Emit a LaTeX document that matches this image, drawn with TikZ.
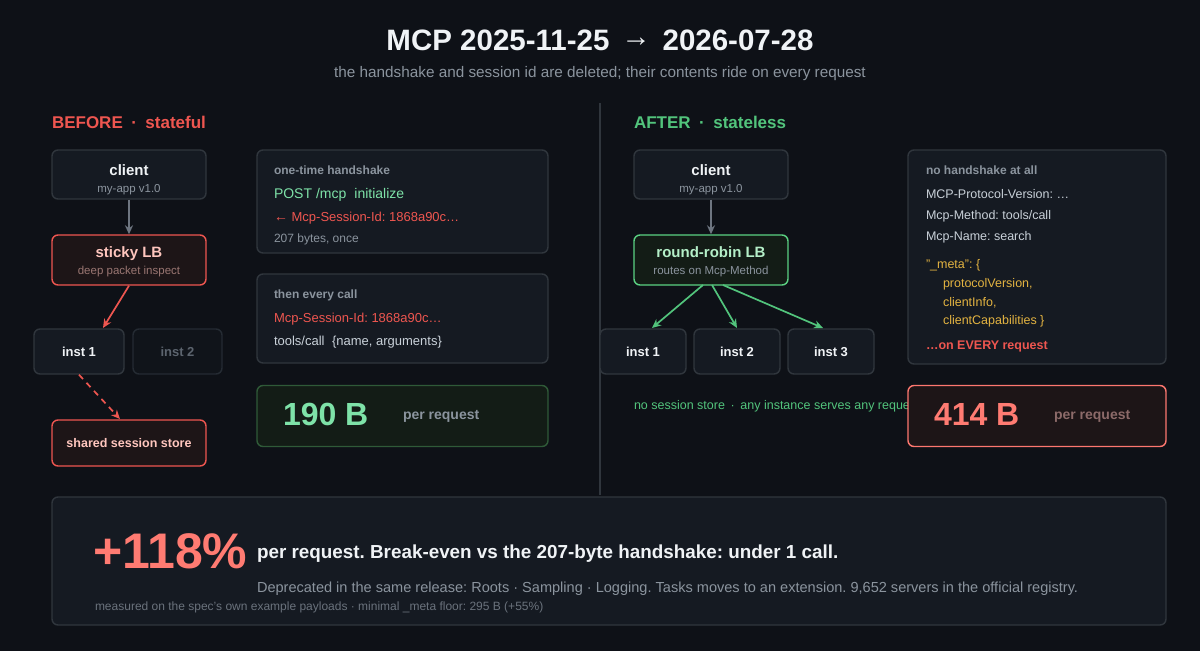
\documentclass[tikz,border=0pt]{standalone}
\usepackage{fontspec}
\setmainfont{Liberation Sans}
\usetikzlibrary{arrows.meta}
\definecolor{bg}{HTML}{0E1117}
\definecolor{boxfill}{HTML}{151A22}
\definecolor{boxline}{HTML}{30363D}
\definecolor{dimfill}{HTML}{10141A}
\definecolor{dimline}{HTML}{252B33}
\definecolor{txtw}{HTML}{F0F3F6}
\definecolor{txtg}{HTML}{8B949E}
\definecolor{txtlg}{HTML}{C9D1D9}
\definecolor{dimtxt}{HTML}{5C646E}
\definecolor{foot}{HTML}{6A727C}
\definecolor{cred}{HTML}{EE5650}
\definecolor{salmon}{HTML}{FF7B72}
\definecolor{redfill}{HTML}{1D1517}
\definecolor{pink}{HTML}{FFC6BE}
\definecolor{pinkdim}{HTML}{9A7672}
\definecolor{cgreen}{HTML}{52C47C}
\definecolor{mint}{HTML}{7EE2A8}
\definecolor{lbtext}{HTML}{B4EFC8}
\definecolor{greenfill}{HTML}{131C16}
\definecolor{greenline}{HTML}{2F5A38}
\definecolor{lbline}{HTML}{5BD283}
\definecolor{gold}{HTML}{E3B341}
\definecolor{arrowg}{HTML}{6E7681}
\definecolor{perred}{HTML}{8C6A69}
\frenchspacing
\newcommand\fsz[1]{\fontsize{#1}{#1}\selectfont}
\tikzset{
  box/.style={draw=boxline, fill=boxfill, rounded corners=6pt, line width=1.4pt, inner sep=0pt},
  dimbox/.style={box, draw=dimline, fill=dimfill},
  redbox/.style={box, draw=cred, fill=redfill},
  lbgreen/.style={box, draw=lbline, fill=greenfill},
  greenbox/.style={box, draw=greenline, fill=greenfill},
  numredbox/.style={box, draw=salmon!90!cred, fill=redfill},
  txt/.style={inner sep=0pt, outer sep=0pt},
  lt/.style={txt, anchor=base west},
  ct/.style={txt, anchor=base},
  conn/.style={-{Stealth[length=9pt,width=8pt]}, line width=1.7pt},
}
\begin{document}
\begin{tikzpicture}[x=1pt,y=-1pt]
\fill[bg] (0,0) rectangle (1200,651);
\useasboundingbox (0,0) rectangle (1200,651);

% title
\node[ct, text=txtw, font=\fsz{29.5}\bfseries] (title) at (600,50) {MCP 2025-11-25\hspace{0.4em}\raisebox{0.12em}{→}\hspace{0.4em}2026-07-28};
\node[ct, text=txtg, font=\fsz{15.3}] (subtitle) at (600,77) {the handshake and session id are deleted; their contents ride on every request};

% divider
\coordinate (dtop) at (600,103);
\coordinate (dbot) at (600,495);
\draw[boxline, line width=1.2pt] (dtop) -- (dbot);

% ===== BEFORE =====
\node[lt, text=cred, font=\fsz{17}\bfseries] (bhead) at (52,128) {BEFORE\hspace{0.5em}·\hspace{0.5em}stateful};

\node[box, minimum width=154pt, minimum height=49pt] (bclient) at (129,174.5) {};
\node[ct, text=txtw, font=\fsz{15}\bfseries] (bclientt) at (129,175) {client};
\node[ct, text=txtg, font=\fsz{11.5}] (bclients) at (129,192) {my-app v1.0};

\node[redbox, minimum width=154pt, minimum height=50pt] (blb) at (129,260) {};
\node[ct, text=pink, font=\fsz{15}\bfseries] (blbt) at (129,257) {sticky LB};
\node[ct, text=pinkdim, font=\fsz{11.5}] (blbs) at (129,274) {deep packet inspect};

\node[box, minimum width=90pt, minimum height=45pt] (bi1) at (79,351.5) {};
\node[ct, text=txtw, font=\fsz{13}\bfseries] (bi1t) at (79,356.5) {inst 1};
\node[dimbox, minimum width=89pt, minimum height=45pt] (bi2) at (177.5,351.5) {};
\node[ct, text=dimtxt, font=\fsz{13}\bfseries] (bi2t) at (177.5,356.5) {inst 2};

\node[redbox, minimum width=154pt, minimum height=46pt] (bstore) at (129,443) {};
\node[ct, text=pink, font=\fsz{12.5}\bfseries] (bstoret) at (129,447) {shared session store};

\coordinate (bi1in) at (103,328);
\coordinate (bstin) at (120,419);
\draw[conn, arrowg] (bclient.south) -- (blb.north);
\draw[conn, cred] (blb.south) -- (bi1in);
\draw[conn, cred, dash pattern=on 6pt off 5pt] (bi1.south) -- (bstin);

% handshake card
\node[box, minimum width=291pt, minimum height=103pt] (hs) at (402.5,201.5) {};
\node[lt, text=txtg, font=\fsz{12}\bfseries] (hs1) at (274,174) {one-time handshake};
\node[lt, text=mint, font=\fsz{14}] (hs2) at (274,198) {POST /mcp\hspace{0.3em} initialize};
\node[lt, text=cred, font=\fsz{13}] (hs3) at (274,221) {{\fsz{14}←} Mcp-Session-Id: 1868a90c…};
\node[lt, text=txtg, font=\fsz{12}] (hs4) at (274,242) {207 bytes, once};

% every call card
\node[box, minimum width=291pt, minimum height=89pt] (ec) at (402.5,318.5) {};
\node[lt, text=txtg, font=\fsz{12}\bfseries] (ec1) at (274,298) {then every call};
\node[lt, text=cred, font=\fsz{13}] (ec2) at (274,322) {Mcp-Session-Id: 1868a90c…};
\node[lt, text=txtlg, font=\fsz{13}] (ec3) at (274,345) {tools/call\hspace{0.3em} \{name, arguments\}};

% 190 B
\node[greenbox, minimum width=291pt, minimum height=61pt] (n190) at (402.5,416) {};
\node[lt, text=mint, font=\fsz{32}\bfseries] (n190t) at (283,425) {190 B};
\node[lt, text=txtg, font=\fsz{14}\bfseries] (n190p) at (403,419.5) {per request};

% ===== AFTER =====
\node[lt, text=cgreen, font=\fsz{17}\bfseries] (ahead) at (634,128) {AFTER\hspace{0.5em}·\hspace{0.5em}stateless};

\node[box, minimum width=154pt, minimum height=49pt] (aclient) at (711,174.5) {};
\node[ct, text=txtw, font=\fsz{15}\bfseries] (aclientt) at (711,175) {client};
\node[ct, text=txtg, font=\fsz{11.5}] (aclients) at (711,192) {my-app v1.0};

\node[lbgreen, minimum width=154pt, minimum height=50pt] (alb) at (711,260) {};
\node[ct, text=lbtext, font=\fsz{15}\bfseries] (albt) at (711,257) {round-robin LB};
\node[ct, text=txtg, font=\fsz{11.5}] (albs) at (711,274) {routes on Mcp-Method};

\node[box, minimum width=86pt, minimum height=45pt] (ai1) at (643,351.5) {};
\node[ct, text=txtw, font=\fsz{13}\bfseries] (ai1t) at (643,356.5) {inst 1};
\node[box, minimum width=86pt, minimum height=45pt] (ai2) at (737,351.5) {};
\node[ct, text=txtw, font=\fsz{13}\bfseries] (ai2t) at (737,356.5) {inst 2};
\node[box, minimum width=86pt, minimum height=45pt] (ai3) at (831,351.5) {};
\node[ct, text=txtw, font=\fsz{13}\bfseries] (ai3t) at (831,356.5) {inst 3};

\coordinate (alb1) at (703,285);
\coordinate (alb2) at (712,285);
\coordinate (alb3) at (723,285);
\coordinate (ai1in) at (652,328);
\coordinate (ai2in) at (737,328);
\coordinate (ai3in) at (823,328);
\draw[conn, arrowg] (aclient.south) -- (alb.north);
\draw[conn, cgreen] (alb1) -- (ai1in);
\draw[conn, cgreen] (alb2) -- (ai2in);
\draw[conn, cgreen] (alb3) -- (ai3in);

\node[lt, text=cgreen, font=\fsz{12.5}] (anote) at (634,409.5) {no session store\hspace{0.45em}·\hspace{0.45em}any instance serves any request};

% no handshake card
\node[box, minimum width=258pt, minimum height=214pt] (nh) at (1037,257) {};
\node[lt, text=txtg, font=\fsz{12}\bfseries] (nh1) at (926,174) {no handshake at all};
\node[lt, text=txtlg, font=\fsz{12.5}] (nh2) at (926,198.5) {MCP-Protocol-Version: …};
\node[lt, text=txtlg, font=\fsz{12.5}] (nh3) at (926,219.5) {Mcp-Method: tools/call};
\node[lt, text=txtlg, font=\fsz{12.5}] (nh4) at (926,240.5) {Mcp-Name: search};
\node[lt, text=gold, font=\fsz{12.5}] (nh5) at (926,268.5) {"\_meta": \{};
\node[lt, text=gold, font=\fsz{12.5}] (nh6) at (943,287.5) {protocolVersion,};
\node[lt, text=gold, font=\fsz{12.5}] (nh7) at (943,306) {clientInfo,};
\node[lt, text=gold, font=\fsz{12.5}] (nh8) at (943,324.5) {clientCapabilities \}};
\node[lt, text=cred, font=\fsz{12.5}\bfseries] (nh9) at (926,349.5) {…on EVERY request};

% 414 B
\node[numredbox, minimum width=258pt, minimum height=61pt] (n414) at (1037,416) {};
\node[lt, text=salmon, font=\fsz{32}\bfseries] (n414t) at (934,425) {414 B};
\node[lt, text=perred, font=\fsz{14}\bfseries] (n414p) at (1054,419.5) {per request};

% ===== bottom =====
\node[box, minimum width=1114pt, minimum height=128pt] (bottom) at (609,561) {};
\node[lt, text=salmon, font=\fsz{50}\bfseries] (pct) at (93,568) {+118\%};
\node[lt, text=txtw, font=\fsz{18.85}\bfseries] (bl1) at (257,558.5) {per request. Break-even vs the 207-byte handshake: under 1 call.};
\node[lt, text=txtg, font=\fsz{14.55}] (bl2) at (257,592) {Deprecated in the same release: Roots · Sampling · Logging. Tasks moves to an extension. 9,652 servers in the official registry.};
\node[lt, text=foot, font=\fsz{12}] (bl3) at (95,610) {measured on the spec's own example payloads · minimal \_meta floor: 295 B (+55\%)};
\end{tikzpicture}
\end{document}
